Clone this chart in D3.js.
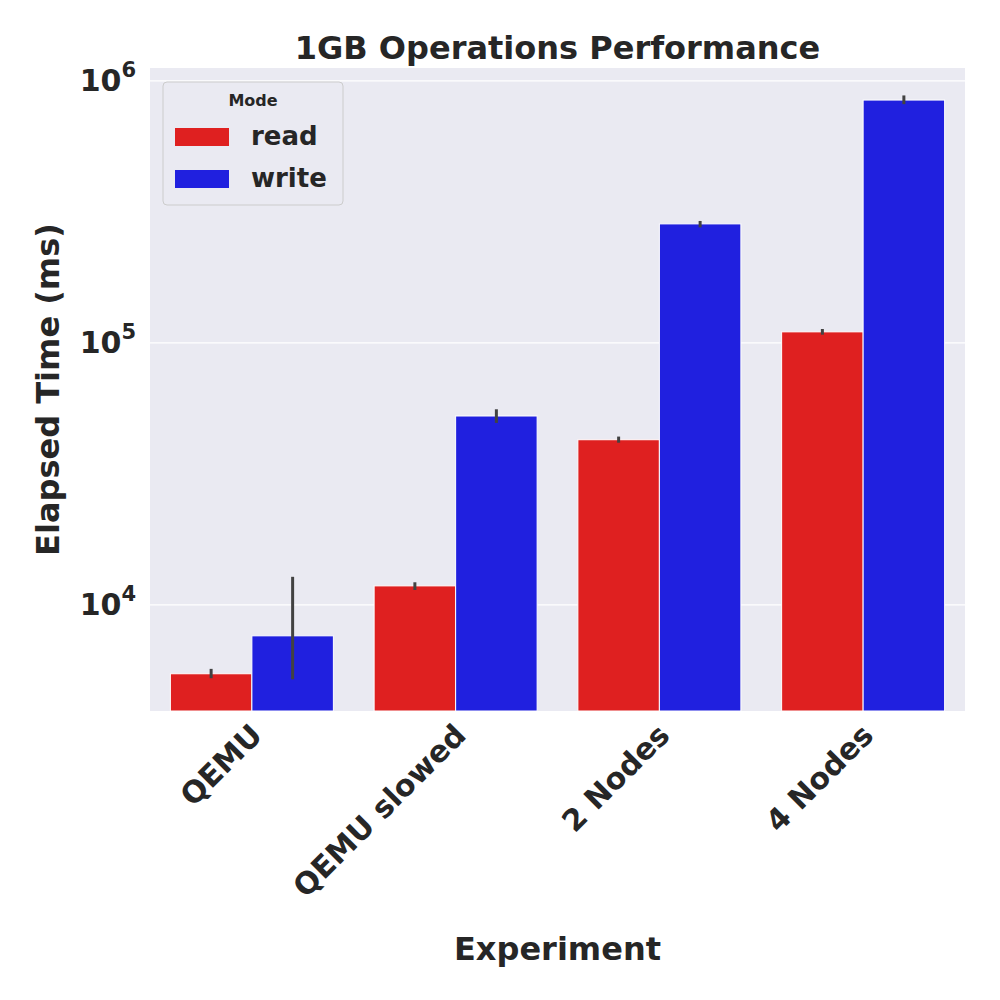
<!DOCTYPE html>
<html>
<head>
  <meta charset="utf-8">
  <script src="https://d3js.org/d3.v7.min.js"></script>
  <style>
    body { margin: 0; background: white; }
    svg { font-family: "DejaVu Sans", sans-serif; }
  </style>
</head>
<body>
  <svg width="1000" height="1000"></svg>
  <script>
    // Data
    const categories = ["QEMU", "QEMU slowed", "2 Nodes", "4 Nodes"];
    const modes = ["read", "write"];
    const colors = ["#df2020", "#2020df"];
    const readValues = [5460, 11820, 42700, 110200];
    const writeValues = [7620, 52600, 284600, 845000];
    const readErrLo = [5250, 11400, 41600, 107500];
    const readErrHi = [5700, 12200, 43900, 113000];
    const writeErrLo = [5200, 49500, 276000, 815000];
    const writeErrHi = [12800, 55800, 292000, 880000];
    const yTicks = [1e4, 1e5, 1e6];

    const values = [readValues, writeValues];
    const errLo = [readErrLo, writeErrLo];
    const errHi = [readErrHi, writeErrHi];

    const svg = d3.select("svg");
    const plotLeft = 150, plotRight = 965, plotTop = 68, plotBottom = 711;

    const x = d3.scaleBand().domain(categories).range([plotLeft, plotRight]);
    const xInner = d3.scaleBand().domain(modes).range([0, x.bandwidth() * 0.8]);
    const y = d3.scaleLog().domain([3936, 1.12e6]).range([plotBottom, plotTop]);

    // background
    svg.append("rect").attr("x", plotLeft).attr("y", plotTop)
      .attr("width", plotRight - plotLeft).attr("height", plotBottom - plotTop).attr("fill", "#eaeaf2");

    // grid
    svg.append("g").selectAll("line").data(yTicks).join("line")
      .attr("x1", plotLeft).attr("x2", plotRight)
      .attr("y1", d => y(d)).attr("y2", d => y(d))
      .attr("stroke", "white").attr("stroke-width", 1.2);

    // bars
    modes.forEach((m, mi) => {
      categories.forEach((c, ci) => {
        const bx = x(c) + x.bandwidth() * 0.1 + xInner(m);
        svg.append("rect")
          .attr("x", bx).attr("width", xInner.bandwidth())
          .attr("y", y(values[mi][ci])).attr("height", plotBottom - y(values[mi][ci]))
          .attr("fill", colors[mi]).attr("stroke", "white").attr("stroke-width", 1);
        const cx = bx + xInner.bandwidth() / 2;
        svg.append("line")
          .attr("x1", cx).attr("x2", cx)
          .attr("y1", y(errLo[mi][ci])).attr("y2", y(errHi[mi][ci]))
          .attr("stroke", "#424242").attr("stroke-width", 3);
      });
    });

    // y tick labels
    const yl = svg.append("g").selectAll("text").data(yTicks).join("text")
      .attr("x", 136).attr("y", d => y(d) + 10)
      .attr("text-anchor", "end").attr("font-size", 30).attr("font-weight", "bold")
      .attr("fill", "#262626");
    yl.append("tspan").text("10");
    yl.append("tspan").attr("dy", -14).attr("font-size", 21).text(d => Math.round(Math.log10(d)));

    // x tick labels
    svg.append("g").selectAll("text").data(categories).join("text")
      .attr("transform", d => `translate(${x(d) + x.bandwidth() / 2 + 12},${plotBottom + 26}) rotate(-45)`)
      .attr("text-anchor", "end").attr("font-size", 30).attr("font-weight", "bold")
      .attr("fill", "#262626").text(d => d);

    // titles
    svg.append("text").attr("x", (plotLeft + plotRight) / 2).attr("y", 59)
      .attr("text-anchor", "middle").attr("font-size", 32).attr("font-weight", "bold")
      .attr("fill", "#262626").text("1GB Operations Performance");
    svg.append("text").attr("x", (plotLeft + plotRight) / 2).attr("y", 960)
      .attr("text-anchor", "middle").attr("font-size", 32).attr("font-weight", "bold")
      .attr("fill", "#262626").text("Experiment");
    svg.append("text").attr("transform", `translate(59,${(plotTop + plotBottom) / 2}) rotate(-90)`)
      .attr("text-anchor", "middle").attr("font-size", 32).attr("font-weight", "bold")
      .attr("fill", "#262626").text("Elapsed Time (ms)");

    // legend
    const lg = svg.append("g").attr("transform", "translate(163,82)");
    lg.append("rect").attr("width", 180).attr("height", 123).attr("rx", 4)
      .attr("fill", "#eaeaf2").attr("stroke", "#cccccc").attr("stroke-width", 1);
    lg.append("text").attr("x", 90).attr("y", 24).attr("text-anchor", "middle")
      .attr("font-size", 16).attr("font-weight", "bold").attr("fill", "#262626").text("Mode");
    modes.forEach((m, i) => {
      lg.append("rect").attr("x", 12).attr("y", 46 + i * 42).attr("width", 54).attr("height", 18)
        .attr("fill", colors[i]);
      lg.append("text").attr("x", 88).attr("y", 63 + i * 42)
        .attr("font-size", 26).attr("font-weight", "bold").attr("fill", "#262626").text(m);
    });
  </script>
</body>
</html>
